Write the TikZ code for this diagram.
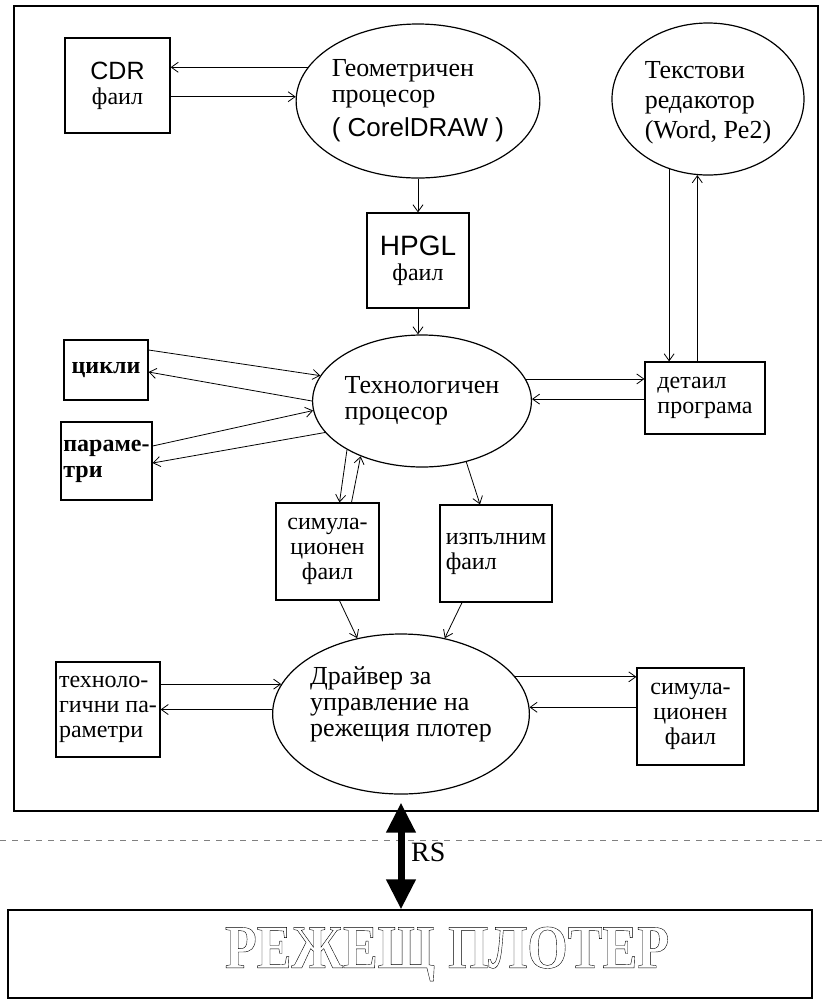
\documentclass[tikz,border=0pt]{standalone}
\usepackage{fontspec}
\setmainfont{Liberation Serif}
\newfontfamily\arialfont{Liberation Sans}
\newfontfamily\plotfont[FakeStretch=0.84]{Liberation Serif Bold}
\usetikzlibrary{shapes.geometric,arrows.meta}

\begin{document}
\begin{tikzpicture}[x=0.5pt,y=-0.5pt,
        box/.style={draw,line width=0.6pt,inner sep=1pt,align=left,font=\fontsize{12}{12.5}\selectfont},
        oval/.style={draw,ellipse,line width=0.6pt,inner sep=0pt,align=left,font=\fontsize{13}{13}\selectfont},
        >={Straight Barb[length=3.5pt,width=5pt]}]
    \useasboundingbox (0,0) rectangle (825,1003);
    \draw[line width=0.6pt] (14,6) rectangle (818,811);
    \draw[gray,dashed,line width=0.4pt] (0,840) -- (825,840);
    % upper part
    \node[box,align=center,minimum width=52.5pt,minimum height=47.5pt] (cdr) at (117.5,85.5) {{\arialfont\fontsize{12.5}{11}\selectfont CDR}\\фаил};
    \node[oval,minimum width=113pt,minimum height=77pt] (geo) at (418,101) {Геометричен\\процесор\\[4pt]{\arialfont ( CorelDRAW )}};
    \node[box,align=center,minimum width=51pt,minimum height=47.5pt] (hpgl) at (418,260.5) {{\arialfont\fontsize{14}{12}\selectfont HPGL}\\фаил};
    \node[oval,minimum width=96pt,minimum height=76pt,font=\fontsize{13}{15}\selectfont] (edit) at (708,99) {\mbox{}\\[-3pt]Текстови\\редакотор\\(Word, Pe2)};
    % middle part
    \node[oval,minimum width=102pt,minimum height=66pt] (tech) at (422,401) {Технологичен\\процесор};
    \node[box,minimum width=60pt,minimum height=36pt] (detail) at (705,398) {детаил\\програма};
    \node[box,font=\bfseries\fontsize{12}{13}\selectfont,minimum width=42pt,minimum height=30pt] (cycles) at (106,370) {цикли};
    \node[box,font=\bfseries\fontsize{12}{13}\selectfont,minimum width=45.5pt,minimum height=39pt] (params) at (106.5,461) {параме-\\три};
    \node[box,align=center,minimum width=51.5pt,minimum height=48.5pt] (simfile) at (327.5,551.5) {симула-\\ционен\\фаил};
    \node[box,minimum width=56pt,minimum height=48.5pt] (exefile) at (496,553.5) {изпълним\\фаил};
    % lower part
    \node[oval,minimum width=118pt,minimum height=80pt] (driver) at (401,714) {Драйвер за\\управление на\\режещия плотер\\[-1pt]\mbox{}};
    \node[box,inner sep=0.5pt,minimum width=52pt,minimum height=47.5pt] (techparams) at (108,709.5) {техноло-\\гични па-\\раметри};
    \node[box,align=center,minimum width=53.5pt,minimum height=48.5pt] (simout) at (690.5,716.5) {симула-\\ционен\\фаил};
    \node[draw,line width=0.6pt,minimum width=402pt,minimum height=44pt,font=\plotfont\fontsize{31}{31}\selectfont] (plotter) at (410,954)
        {\hspace*{37pt}\special{pdf:literal direct 1 Tr 0.2 w}РЕЖЕЩ ПЛОТЕР\special{pdf:literal direct 0 Tr}};
    % connectors
    \draw[->] (geo.163) -- (geo.163 -| cdr.east);
    \draw[->] (cdr.east |- geo.178) -- (geo.178);
    \draw[->] (geo.south) -- (hpgl.north);
    \draw[->] (hpgl.south) -- (hpgl.south |- tech.north);
    \draw[->] (edit.241) -- (edit.241 |- detail.north);
    \draw[->] (detail.north -| edit.262) -- (edit.262);
    \draw[->] (tech.12) -- (tech.12 -| detail.west);
    \draw[->] (detail.west |- tech.1) -- (tech.1);
    \draw[->] ([yshift=10pt]cycles.east) -- (tech.166);
    \draw[->] (tech.180) -- ([yshift=-1pt]cycles.east);
    \draw[->] ([yshift=7.5pt]params.east) -- (tech.185);
    \draw[->] (tech.198) -- ([yshift=-1pt]params.east);
    \draw[->] (tech.213) -- ([xshift=6pt]simfile.north);
    \draw[->] ([xshift=12pt]simfile.north) -- (tech.222);
    \draw[->] (tech.306) -- ([xshift=-8pt]exefile.north);
    \draw[->] ([xshift=6pt]simfile.south) -- (driver.120);
    \draw[->] ([xshift=-17pt]exefile.south) -- (driver.60);
    \draw[->] (techparams.east |- driver.166) -- (driver.166);
    \draw[->] (driver.178) -- (driver.178 -| techparams.east);
    \draw[->] (driver.18) -- (driver.18 -| simout.west);
    \draw[->] (simout.west |- driver.3) -- (driver.3);
    \draw[line width=3.5pt,{Triangle[length=15pt,width=14pt]}-{Triangle[length=15pt,width=14pt]},shorten <=4pt]
        (driver.south) -- (driver.south |- plotter.north) node[midway,right=0pt,font=\fontsize{14}{14}\selectfont] (rs) {RS};
\end{tikzpicture}
\end{document}
